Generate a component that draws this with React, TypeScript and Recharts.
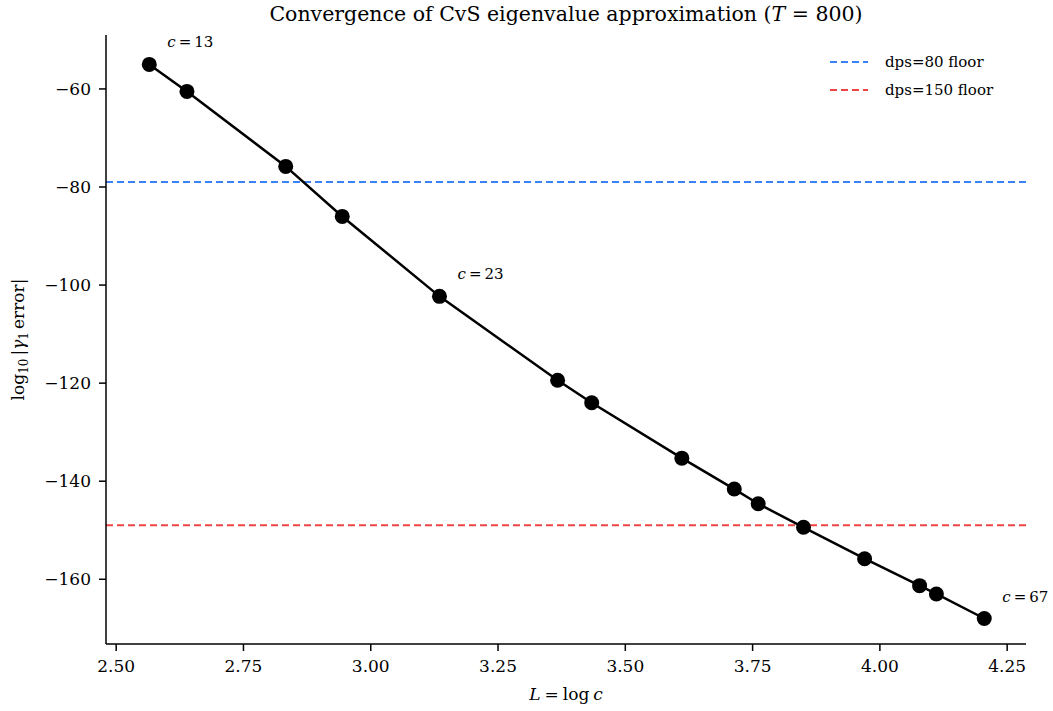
import { LineChart, Line, XAxis, YAxis, ReferenceLine, Label } from 'recharts'

const FONT = '"DejaVu Serif", serif'

// L = log c for each cutoff c
const logC = [2.565, 2.639, 2.833, 2.944, 3.135, 3.367, 3.434, 3.611, 3.714, 3.761, 3.850, 3.970, 4.078, 4.111, 4.205]
// log10 of |gamma_1 error|
const logErr = [-55.0, -60.5, -75.8, -86.0, -102.3, -119.4, -124.0, -135.3, -141.6, -144.6, -149.4, -155.8, -161.3, -163.0, -168.0]
// points that carry a "c = ..." note
const noteIndex = [0, 4, 14]
const noteText = ['13', '23', '67']

const floorNames = ['dps=80 floor', 'dps=150 floor']
const floorValues = [-79, -149]
const floorColors = ['#3b82f6', '#ef4444']

const xTicks = [2.5, 2.75, 3.0, 3.25, 3.5, 3.75, 4.0, 4.25]
const yTicks = [-160, -140, -120, -100, -80, -60]

const data = logC.map((x, i) => ({ x, y: logErr[i] }))

const tickStyle = { fill: '#000', fontSize: 17, fontFamily: FONT }

const NoteLabel = (props: any) => {
  const { x, y, index } = props
  const k = noteIndex.indexOf(index)
  if (k < 0) return null
  return (
    <text x={x + 18} y={y - 17} fontFamily={FONT} fontSize={15} fill="#000">
      <tspan fontStyle="italic">c</tspan>
      <tspan dx={3}>=</tspan>
      <tspan dx={3}>{noteText[k]}</tspan>
    </text>
  )
}

const YLabel = ({ viewBox }: any) => {
  const cy = viewBox.y + viewBox.height / 2
  return (
    <text x={0} y={0} transform={`translate(24, ${cy}) rotate(-90)`} textAnchor="middle"
      fontFamily={FONT} fontSize={17} fill="#000">
      log<tspan fontSize={12} dy={4}>10</tspan>
      <tspan dy={-4} dx={3}>|</tspan>
      <tspan fontStyle="italic">γ</tspan>
      <tspan fontSize={12} dy={4}>1</tspan>
      <tspan dy={-4} dx={3}>error|</tspan>
    </text>
  )
}

const XLabel = ({ viewBox }: any) => {
  const cx = viewBox.x + viewBox.width / 2
  return (
    <text x={cx} y={700} textAnchor="middle" fontFamily={FONT} fontSize={17} fill="#000">
      <tspan fontStyle="italic">L</tspan>
      <tspan dx={4}>=</tspan>
      <tspan dx={4}>log</tspan>
      <tspan dx={4} fontStyle="italic">c</tspan>
    </text>
  )
}

export default function App() {
  return (
    <div style={{ position: 'absolute', left: 0, top: 0, width: 1053, height: 711, background: '#fff' }}>
      <div style={{
        position: 'absolute', top: 0, left: 106, width: 920, textAlign: 'center',
        fontFamily: FONT, fontSize: 20.5, lineHeight: '28px', color: '#000',
      }}>
        Convergence of CvS eigenvalue approximation (<i>T</i> = 800)
      </div>
      <div style={{ position: 'absolute', left: 830, top: 48, fontFamily: FONT, fontSize: 15, color: '#000' }}>
        {floorNames.map((n, i) => (
          <div key={n} style={{ display: 'flex', alignItems: 'center', height: 28 }}>
            <svg width={40} height={10} style={{ marginRight: 15 }}>
              <line x1={0} y1={5} x2={38} y2={5} stroke={floorColors[i]} strokeWidth={2} strokeDasharray="7 4" />
            </svg>
            <span>{n}</span>
          </div>
        ))}
      </div>
      <LineChart width={1053} height={711} data={data} margin={{ top: 35, right: 27, bottom: 37, left: 40 }}
        style={{ position: 'absolute', left: 0, top: 0 }}>
        <XAxis
          type="number" dataKey="x" domain={[2.48, 4.287]} ticks={xTicks}
          tickFormatter={(v: number) => v.toFixed(2)} allowDataOverflow
          height={30} tick={tickStyle} tickSize={7} tickMargin={9}
          axisLine={{ stroke: '#000', strokeWidth: 1.5 }} tickLine={{ stroke: '#000', strokeWidth: 1.5 }}
        >
          <Label content={<XLabel />} />
        </XAxis>
        <YAxis
          type="number" dataKey="y" domain={[-173.2, -49.0]} ticks={yTicks}
          tickFormatter={(v: number) => String(v).replace('-', '\u2212')} allowDataOverflow
          width={66} tick={tickStyle} tickSize={7} tickMargin={8}
          axisLine={{ stroke: '#000', strokeWidth: 1.5 }} tickLine={{ stroke: '#000', strokeWidth: 1.5 }}
        >
          <Label content={<YLabel />} />
        </YAxis>
        {floorValues.map((v, i) => (
          <ReferenceLine key={floorNames[i]} y={v} stroke={floorColors[i]} strokeWidth={2} strokeDasharray="7 4" />
        ))}
        <Line
          type="linear" dataKey="y" stroke="#000" strokeWidth={2.5}
          dot={{ r: 7.5, fill: '#000', stroke: '#000', strokeWidth: 0 }} activeDot={false}
          label={<NoteLabel />} isAnimationActive={false}
        />
      </LineChart>
    </div>
  )
}
